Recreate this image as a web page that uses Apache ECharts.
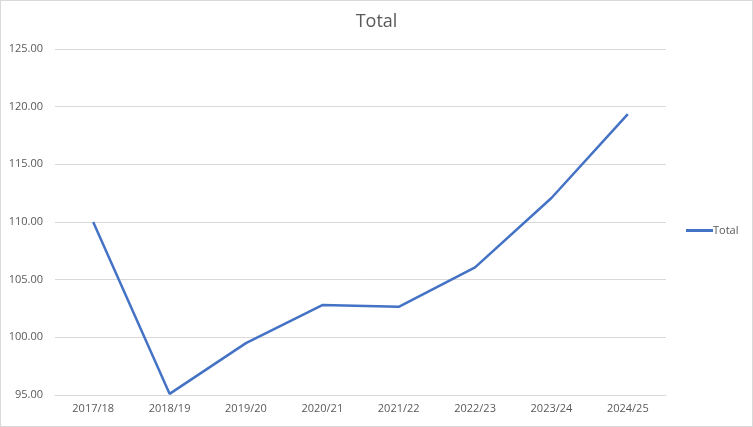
<!DOCTYPE html>
<html>
<head>
<meta charset="utf-8">
<script src="https://cdn.jsdelivr.net/npm/echarts@6/dist/echarts.min.js"></script>
<style>
html,body{margin:0;padding:0;background:#fff;}
#c{width:753px;height:427px;box-sizing:border-box;border:1px solid #d9d9d9;}
</style>
</head>
<body>
<div id="c"></div>
<script>
const categories = ['2017/18','2018/19','2019/20','2020/21','2021/22','2022/23','2023/24','2024/25'];
const totalValues = [110.0, 95.1, 99.5, 102.8, 102.65, 106.07, 112.08, 119.36];
const yTicks = {min: 95, max: 125, interval: 5};

const chart = echarts.init(document.getElementById('c'), null, {renderer: 'canvas'});
const font = '"Open Sans", "Liberation Sans", sans-serif';
chart.setOption({
  animation: false,
  title: {
    text: 'Total', left: 'center', top: 7,
    textStyle: {fontFamily: font, fontSize: 18, fontWeight: 'normal', color: '#595959'}
  },
  legend: {
    orient: 'vertical', left: 680, top: 219,
    itemWidth: 27, itemHeight: 3, itemGap: 4,
    icon: 'rect',
    textStyle: {fontFamily: font, fontSize: 11, color: '#595959', padding: [0,0,0,-5]},
    data: ['Total']
  },
  grid: {left: 54, right: 86, top: 48, bottom: 31, containLabel: false},
  xAxis: {
    type: 'category', data: categories, boundaryGap: true,
    axisLine: {lineStyle: {color: '#d9d9d9', width: 1}},
    axisTick: {show: false},
    axisLabel: {fontFamily: font, fontSize: 11, color: '#595959', margin: 8}
  },
  yAxis: {
    type: 'value', min: yTicks.min, max: yTicks.max, interval: yTicks.interval,
    axisLine: {show: false}, axisTick: {show: false},
    axisLabel: {fontFamily: font, fontSize: 11, color: '#595959', margin: 12,
      formatter: v => v.toFixed(2)},
    splitLine: {lineStyle: {color: '#d9d9d9', width: 1}}
  },
  series: [{
    name: 'Total', type: 'line', data: totalValues,
    showSymbol: false, symbol: 'none',
    lineStyle: {color: '#4472C4', width: 2.5},
    itemStyle: {color: '#4472C4'}
  }]
});
</script>
</body>
</html>
